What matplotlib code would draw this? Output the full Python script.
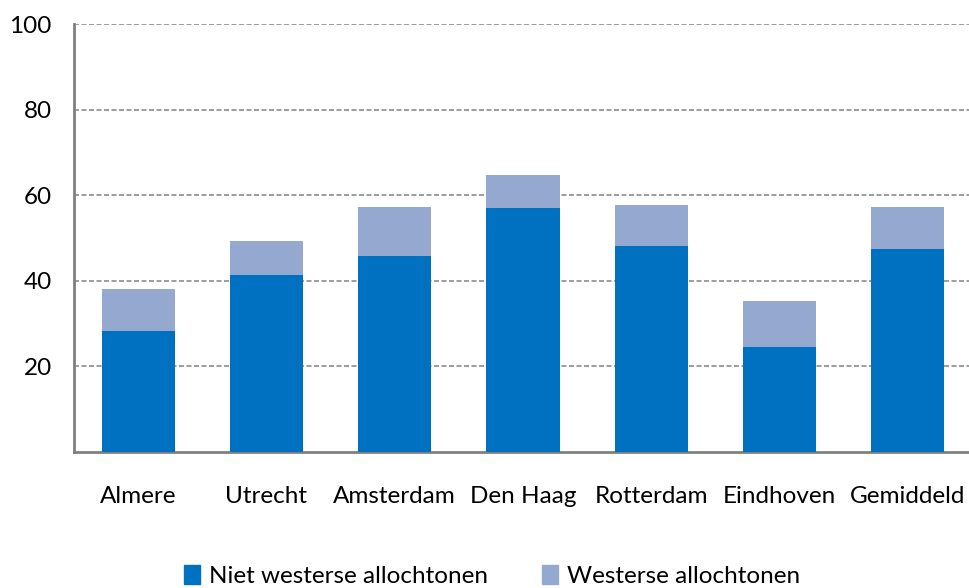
import numpy as np
import matplotlib.pyplot as plt
from matplotlib.patches import Patch

# Data
steden = ["Almere", "Utrecht", "Amsterdam", "Den Haag", "Rotterdam", "Eindhoven", "Gemiddeld"]
niet_westers = [28.2, 41.3, 45.8, 57.0, 48.1, 24.5, 47.4]
westers = [9.8, 8.0, 11.4, 7.7, 9.6, 10.7, 9.8]
y_ticks = [20, 40, 60, 80, 100]

kleur_donker = "#0070C0"
kleur_licht = "#95A9D0"

plt.rcParams['font.family'] = ['Lato', 'DejaVu Sans']

fig = plt.figure(figsize=(9.69, 5.88), dpi=100)
ax = fig.add_axes([74/969, 1 - 451.5/588, 1 - 74/969 + 0.003, (451.5 - 24.3)/588])

x = np.arange(len(steden))
ax.bar(x, niet_westers, width=0.57, color=kleur_donker, zorder=3)
ax.bar(x, westers, width=0.57, bottom=niet_westers, color=kleur_licht, zorder=3)

ax.set_xlim(-0.5, len(steden) - 0.5)
ax.set_ylim(0, 100)
ax.set_yticks(y_ticks)
ax.set_xticks(x)
ax.set_xticklabels(steden, fontsize=17.5)
ax.tick_params(axis='y', labelsize=17.5, length=0, pad=16)
ax.tick_params(axis='x', length=0, pad=25)
ax.yaxis.grid(True, linestyle=(0, (3, 1.5)), color="#8c8c8c", linewidth=1.2, zorder=0)

for side in ["top", "right"]:
    ax.spines[side].set_visible(False)
for side in ["left", "bottom"]:
    ax.spines[side].set_color("#808080")
    ax.spines[side].set_linewidth(2)

handles = [Patch(color=kleur_donker, label="Niet westerse allochtonen"),
           Patch(color=kleur_licht, label="Westerse allochtonen")]
fig.legend(handles=handles, loc="lower center", bbox_to_anchor=(0.508, -0.035), ncol=2,
           frameon=False, fontsize=17.5, handlelength=0.65, handleheight=0.85,
           handletextpad=0.4, columnspacing=2.2)

fig.savefig("out.png", dpi=100)
